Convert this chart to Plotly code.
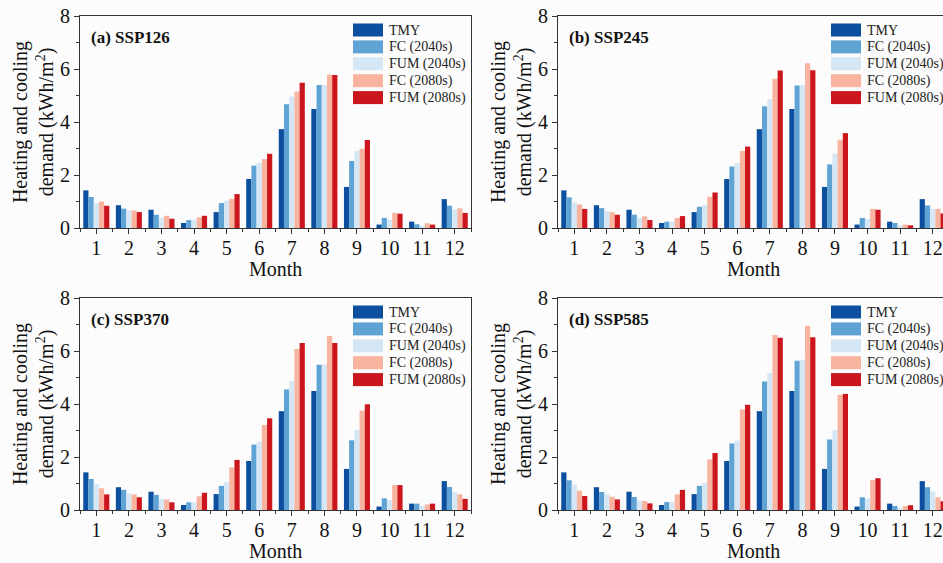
import plotly.graph_objects as go

# ---------------- data ----------------
MONTHS = list(range(1, 13))
SERIES = ["TMY", "FC (2040s)", "FUM (2040s)", "FC (2080s)", "FUM (2080s)"]
COLORS = ["#0c4f9e", "#5fa3d4", "#d5e7f5", "#f8b49e", "#cc161e"]
PANEL_TITLES = ["(a) SSP126", "(b) SSP245", "(c) SSP370", "(d) SSP585"]
X_TITLE = "Month"
Y_TITLE = "Heating and cooling<br>demand (kWh/m<sup>2</sup>)"

TMY = [1.42, 0.86, 0.69, 0.19, 0.60, 1.85, 3.73, 4.49, 1.55, 0.13, 0.24, 1.09]

SSP126_FC_2040 = [1.17, 0.73, 0.50, 0.30, 0.94, 2.35, 4.67, 5.40, 2.53, 0.38, 0.14, 0.84]
SSP126_FUM_2040 = [0.94, 0.66, 0.38, 0.31, 1.03, 2.45, 4.96, 5.40, 2.91, 0.31, 0.07, 0.69]
SSP126_FC_2080 = [1.00, 0.66, 0.46, 0.40, 1.10, 2.60, 5.15, 5.79, 2.99, 0.57, 0.18, 0.74]
SSP126_FUM_2080 = [0.84, 0.60, 0.35, 0.46, 1.28, 2.80, 5.48, 5.77, 3.32, 0.54, 0.13, 0.57]

SSP245_FC_2040 = [1.16, 0.75, 0.50, 0.24, 0.80, 2.32, 4.59, 5.38, 2.40, 0.38, 0.19, 0.85]
SSP245_FUM_2040 = [0.97, 0.64, 0.38, 0.23, 0.87, 2.45, 4.86, 5.40, 2.81, 0.34, 0.09, 0.72]
SSP245_FC_2080 = [0.89, 0.60, 0.44, 0.38, 1.18, 2.91, 5.63, 6.22, 3.33, 0.72, 0.13, 0.72]
SSP245_FUM_2080 = [0.72, 0.50, 0.30, 0.45, 1.34, 3.07, 5.94, 5.95, 3.58, 0.69, 0.10, 0.55]

SSP370_FC_2040 = [1.17, 0.76, 0.57, 0.29, 0.91, 2.47, 4.55, 5.48, 2.63, 0.44, 0.24, 0.87]
SSP370_FUM_2040 = [0.97, 0.63, 0.42, 0.29, 1.05, 2.58, 4.87, 5.48, 3.02, 0.38, 0.15, 0.67]
SSP370_FC_2080 = [0.82, 0.59, 0.40, 0.52, 1.61, 3.21, 6.08, 6.57, 3.75, 0.94, 0.21, 0.59]
SSP370_FUM_2080 = [0.59, 0.48, 0.29, 0.65, 1.89, 3.46, 6.30, 6.30, 3.99, 0.94, 0.24, 0.42]

SSP585_FC_2040 = [1.12, 0.68, 0.49, 0.30, 0.91, 2.51, 4.85, 5.63, 2.66, 0.48, 0.15, 0.86]
SSP585_FUM_2040 = [0.96, 0.60, 0.35, 0.30, 1.03, 2.62, 5.16, 5.67, 3.01, 0.43, 0.06, 0.70]
SSP585_FC_2080 = [0.73, 0.50, 0.34, 0.59, 1.91, 3.80, 6.60, 6.95, 4.35, 1.13, 0.15, 0.48]
SSP585_FUM_2080 = [0.53, 0.40, 0.25, 0.76, 2.15, 3.97, 6.50, 6.52, 4.38, 1.20, 0.18, 0.33]

PANEL_DATA = [
    [TMY, SSP126_FC_2040, SSP126_FUM_2040, SSP126_FC_2080, SSP126_FUM_2080],
    [TMY, SSP245_FC_2040, SSP245_FUM_2040, SSP245_FC_2080, SSP245_FUM_2080],
    [TMY, SSP370_FC_2040, SSP370_FUM_2040, SSP370_FC_2080, SSP370_FUM_2080],
    [TMY, SSP585_FC_2040, SSP585_FUM_2040, SSP585_FC_2080, SSP585_FUM_2080],
]

# ---------------- layout geometry (pixels) ----------------
W, H = 943, 563
PX_PER_MONTH = 391 / 12.0
# left, top, bottom, right of each plot area
GEOM = [(80, 16, 228, 471), (558, 16, 228, 943), (80, 298, 510, 471), (558, 298, 510, 943)]

FONT = "Liberation Serif"
AXIS_COLOR = "#333333"
TEXT_COLOR = "#111111"

def px(xp):
    return xp / W

def py(yp):
    return 1 - yp / H

fig = go.Figure()
layout = dict(
    width=W, height=H,
    margin=dict(l=0, r=0, t=0, b=0, autoexpand=False),
    paper_bgcolor="#fcfcfc", plot_bgcolor="#fcfcfc",
    barmode="group", bargap=0.2, bargroupgap=0.0,
    showlegend=False,
    font=dict(family=FONT, size=20, color=TEXT_COLOR),
)
annotations = []
shapes = []

for p, (title, series_vals) in enumerate(zip(PANEL_TITLES, PANEL_DATA)):
    left, top, bottom, right = GEOM[p]
    sfx = "" if p == 0 else str(p + 1)
    xa, ya = "x" + sfx, "y" + sfx
    for name, color, vals in zip(SERIES, COLORS, series_vals):
        fig.add_trace(go.Bar(
            x=MONTHS, y=vals, name=name, marker=dict(color=color, line=dict(width=0)),
            xaxis=xa, yaxis=ya, showlegend=False,
        ))
    xr_hi = 0.5 + (right - left) / PX_PER_MONTH
    layout["xaxis" + sfx] = dict(
        domain=[px(left), px(right)], anchor=ya, range=[0.5, xr_hi], automargin=False,
        tickmode="array", tickvals=MONTHS, ticktext=[str(m) for m in MONTHS],
        ticks="outside", ticklen=5, tickwidth=1.2, tickcolor=AXIS_COLOR,
        ticklabelstandoff=-3,
        minor=dict(tick0=0.5, dtick=1, ticks="outside", ticklen=2.5, tickcolor=AXIS_COLOR),
        showline=True, linecolor=AXIS_COLOR, linewidth=1.2, mirror=True,
        showgrid=False, zeroline=False,
        tickfont=dict(size=20, family=FONT, color=TEXT_COLOR),
    )
    layout["yaxis" + sfx] = dict(
        domain=[py(bottom), py(top)], anchor=xa, range=[0, 8], automargin=False,
        tickmode="linear", tick0=0, dtick=2,
        ticks="outside", ticklen=5, tickwidth=1.2, tickcolor=AXIS_COLOR,
        minor=dict(tick0=0, dtick=1, ticks="outside", ticklen=2.5, tickcolor=AXIS_COLOR),
        showline=True, linecolor=AXIS_COLOR, linewidth=1.2, mirror=True,
        showgrid=False, zeroline=False,
        tickfont=dict(size=20, family=FONT, color=TEXT_COLOR),
        title=dict(text=Y_TITLE, font=dict(size=20, family=FONT, color=TEXT_COLOR), standoff=0),
    )
    # x-axis title, centred under the plot area
    annotations.append(dict(
        text=X_TITLE, xref="paper", yref="paper",
        x=px(left + 195.5), y=py(bottom + 41), xanchor="center", yanchor="middle",
        showarrow=False, font=dict(size=20, family=FONT, color=TEXT_COLOR),
    ))
    # panel label
    annotations.append(dict(
        text="<b>" + title + "</b>", xref="paper", yref="paper",
        x=px(left + 9), y=py(top + 21), xanchor="left", yanchor="middle",
        showarrow=False, font=dict(size=17, family=FONT, color=TEXT_COLOR),
    ))
    # legend (drawn per panel)
    sw_left = left + 273
    for i, (name, color) in enumerate(zip(SERIES, COLORS)):
        cy = top + 14 + i * 16.9
        shapes.append(dict(
            type="rect", xref="paper", yref="paper",
            x0=px(sw_left), x1=px(sw_left + 30), y0=py(cy + 6.5), y1=py(cy - 6.5),
            fillcolor=color, line=dict(width=0), layer="above",
        ))
        annotations.append(dict(
            text=name, xref="paper", yref="paper",
            x=px(sw_left + 34), y=py(cy), xanchor="left", yanchor="middle",
            showarrow=False, font=dict(size=14, family=FONT, color="#222222"),
        ))

layout["annotations"] = annotations
layout["shapes"] = shapes
fig.update_layout(**layout)
fig.write_html("out.html")
